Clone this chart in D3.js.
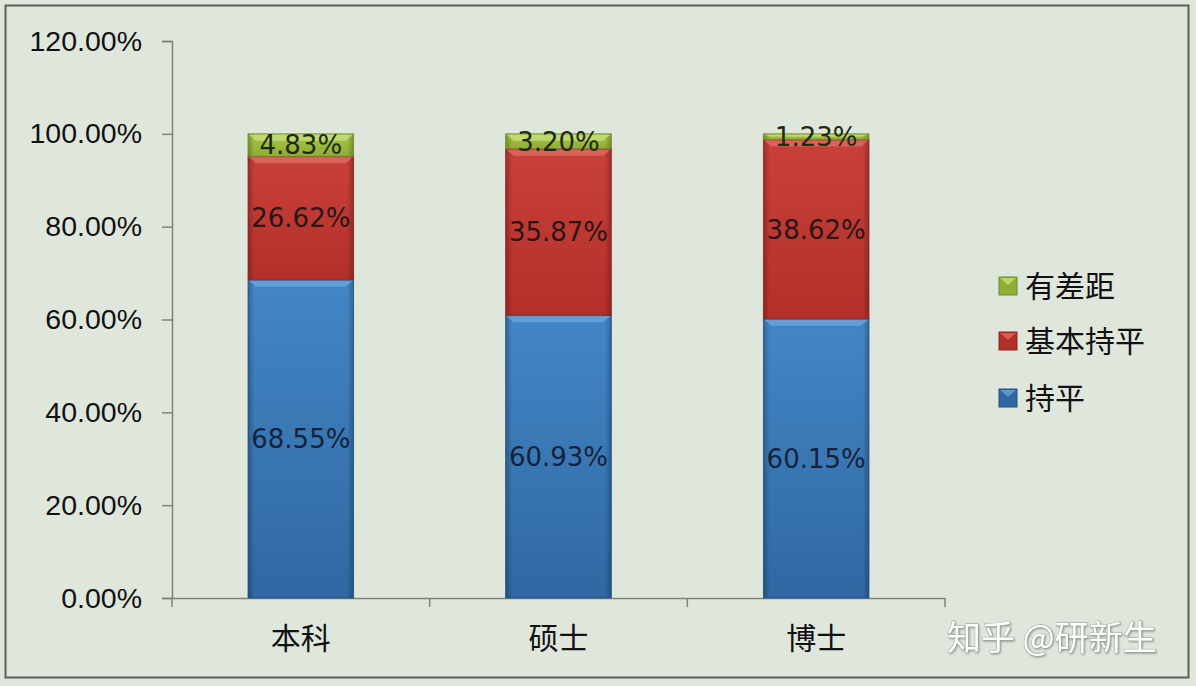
<!DOCTYPE html>
<html><head><meta charset="utf-8">
<script src="https://cdn.jsdelivr.net/npm/d3@7"></script>
<style>
html,body{margin:0;padding:0;background:#dfe7dd;}
svg{display:block;}
</style></head>
<body>
<svg id="c" width="1196" height="686"></svg>
<script>
const categories = ["本科", "硕士", "博士"];
const seriesNames = ["持平", "基本持平", "有差距"];
const pingValues = [68.55, 60.93, 60.15];
const basicValues = [26.62, 35.87, 38.62];
const gapValues = [4.83, 3.20, 1.23];
const yTicks = [0, 20, 40, 60, 80, 100, 120];
const tops = ["#4486c6", "#c9403a", "#a6c448"];
const bottoms = ["#2f68a3", "#b3302a", "#8fae34"];
const darks = ["#24527f", "#8e2620", "#6f8b28"];
const lights = ["#6aa2dc", "#dc6a60", "#c4dc78"];
const labelColors = ["#15233a", "#2a1616", "#1e2a10"];

const svg = d3.select("#c");
const W = 1196, H = 686;
svg.append("rect").attr("x",0).attr("y",0).attr("width",W).attr("height",H).attr("fill","#dfe7dd");
svg.append("rect").attr("x",5.5).attr("y",5.5).attr("width",1183).attr("height",672)
  .attr("fill","none").attr("stroke","#5b615a").attr("stroke-width",2);

const defs = svg.append("defs");
tops.forEach((c,i)=>{
  const g = defs.append("linearGradient").attr("id","g"+i).attr("x1","0").attr("x2","0").attr("y1","0").attr("y2","1");
  g.append("stop").attr("offset","0").attr("stop-color",c);
  g.append("stop").attr("offset","1").attr("stop-color",bottoms[i]);
});
const eg = defs.append("linearGradient").attr("id","edge").attr("x1","0").attr("x2","1").attr("y1","0").attr("y2","0");
eg.append("stop").attr("offset","0").attr("stop-color","#000").attr("stop-opacity",0.25);
eg.append("stop").attr("offset","0.06").attr("stop-color","#000").attr("stop-opacity",0);
eg.append("stop").attr("offset","0.94").attr("stop-color","#000").attr("stop-opacity",0);
eg.append("stop").attr("offset","1").attr("stop-color","#000").attr("stop-opacity",0.25);

const y = d3.scaleLinear().domain([0,120]).range([598,41]);
const x = d3.scaleBand().domain(categories).range([172,945]).padding(0);
const barW = x.bandwidth()*0.41;

// axes
const yAxis = d3.axisLeft(y).tickValues(yTicks).tickFormat(d=>d.toFixed(2)+"%").tickSize(10).tickPadding(20);
const ga = svg.append("g").attr("transform","translate(172,0)").call(yAxis);
ga.select(".domain").attr("stroke","#7d847c").attr("stroke-width",1.5);
ga.selectAll(".tick line").attr("stroke","#7d847c").attr("stroke-width",1.5);
ga.selectAll(".tick text").attr("font-family","'Liberation Sans', Arial, sans-serif").attr("font-size",28.5).attr("fill","#111");

const xAxis = d3.axisBottom(x).tickSize(0).tickFormat("");
const gx = svg.append("g").attr("transform","translate(0,598)").call(xAxis);
gx.select(".domain").attr("stroke","#7d847c").attr("stroke-width",1.5);
const bounds = [172].concat(categories.map(c=>x(c)+x.bandwidth()));
svg.selectAll(".bt").data(bounds).enter().append("line")
  .attr("x1",d=>d).attr("x2",d=>d).attr("y1",598).attr("y2",607)
  .attr("stroke","#7d847c").attr("stroke-width",1.5);
svg.selectAll(".cl").data(categories).enter().append("text")
  .attr("x",d=>x(d)+x.bandwidth()/2).attr("y",649)
  .attr("text-anchor","middle").attr("font-family","'Noto Sans CJK SC', sans-serif")
  .attr("font-size",30).attr("fill","#111").text(d=>d);

// stacks
const rows = categories.map((c,i)=>({cat:c, s0:pingValues[i], s1:basicValues[i], s2:gapValues[i]}));
const stack = d3.stack().keys(["s0","s1","s2"]);
const layers = stack(rows);
layers.forEach((layer,li)=>{
  const g = svg.append("g");
  layer.forEach(d=>{
    const cx = x(d.data.cat)+x.bandwidth()/2;
    const x0 = cx-barW/2;
    const yt = y(d[1]), yb = y(d[0]);
    const h = yb-yt;
    g.append("rect").attr("x",x0).attr("y",yt).attr("width",barW).attr("height",h)
      .attr("fill","url(#g"+li+")");
    g.append("rect").attr("x",x0).attr("y",yt).attr("width",barW).attr("height",h)
      .attr("fill","url(#edge)").attr("stroke",darks[li]).attr("stroke-width",0.8);
    const bh = Math.min(7,h/2);
    g.append("path").attr("d",`M${x0+1},${yt+1} L${x0+barW-1},${yt+1} L${x0+barW-8},${yt+bh} L${x0+8},${yt+bh} Z`)
      .attr("fill",lights[li]).attr("opacity",0.85);
    g.append("text").attr("x",cx).attr("y",(yt+yb)/2).attr("dy","0.36em")
      .attr("text-anchor","middle").attr("font-family","'DejaVu Sans', Verdana, sans-serif")
      .attr("font-size",26).attr("fill",labelColors[li])
      .text(d.data["s"+li].toFixed(2)+"%");
  });
});

// legend
const legendItems = [2,1,0];
const ly = [286, 341, 398];
legendItems.forEach((si,k)=>{
  svg.append("rect").attr("x",999).attr("y",ly[k]-9).attr("width",18).attr("height",18)
    .attr("fill",bottoms[si]).attr("stroke",darks[si]).attr("stroke-width",1);
  svg.append("path").attr("d",`M${1000},${ly[k]-8} L${1016},${ly[k]-8} L${1008},${ly[k]-1} Z`)
    .attr("fill",lights[si]).attr("opacity",0.8);
  svg.append("text").attr("x",1025).attr("y",ly[k]).attr("dy","0.36em")
    .attr("font-family","'Noto Sans CJK SC', sans-serif").attr("font-size",30).attr("fill","#111")
    .text(seriesNames[si]);
});

// watermark
svg.append("text").attr("x",947).attr("y",650)
  .attr("font-family","'Noto Sans CJK SC', sans-serif").attr("font-size",34)
  .attr("fill","#ffffff").attr("stroke","#9aa39a").attr("stroke-width",0.8).attr("paint-order","stroke")
  .attr("style","filter:drop-shadow(1px 1px 1px rgba(0,0,0,0.35))")
  .text("知乎 @研新生");
</script>
</body></html>
